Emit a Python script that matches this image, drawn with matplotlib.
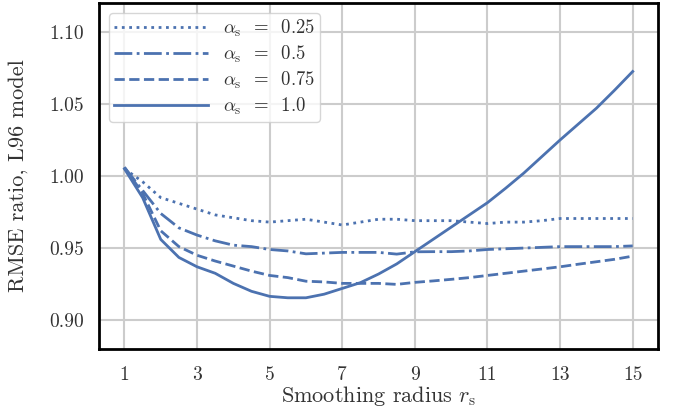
import matplotlib
matplotlib.use("Agg")
import matplotlib.pyplot as plt

r_s = [1, 1.5, 2, 2.5, 3, 3.5, 4, 4.5, 5, 5.5, 6, 6.5, 7, 7.5, 8, 8.5, 9, 9.5,
       10, 10.5, 11, 11.5, 12, 12.5, 13, 13.5, 14, 14.5, 15]

alpha_025 = [1.005, 0.996, 0.985, 0.981, 0.977, 0.973, 0.971, 0.969, 0.968, 0.969,
             0.970, 0.968, 0.966, 0.968, 0.970, 0.970, 0.969, 0.969, 0.969, 0.968,
             0.967, 0.968, 0.968, 0.969, 0.9705, 0.9705, 0.9705, 0.9705, 0.9705]
alpha_05 = [1.006, 0.990, 0.974, 0.964, 0.959, 0.955, 0.952, 0.951, 0.949, 0.948,
            0.946, 0.9465, 0.947, 0.947, 0.947, 0.9458, 0.9474, 0.9475, 0.9475, 0.948,
            0.949, 0.9495, 0.950, 0.9505, 0.951, 0.951, 0.951, 0.951, 0.9515]
alpha_075 = [1.006, 0.988, 0.962, 0.951, 0.945, 0.941, 0.9375, 0.934, 0.931, 0.9295,
             0.927, 0.9265, 0.9255, 0.9255, 0.9255, 0.9248, 0.9262, 0.9272, 0.9283, 0.9295,
             0.931, 0.9325, 0.934, 0.9355, 0.937, 0.9388, 0.9405, 0.9422, 0.9444]
alpha_10 = [1.005, 0.985, 0.956, 0.9435, 0.937, 0.9325, 0.9255, 0.920, 0.9165, 0.9155,
            0.9155, 0.918, 0.922, 0.926, 0.932, 0.939, 0.9475, 0.956, 0.9645, 0.973,
            0.9815, 0.9915, 1.002, 1.0135, 1.025, 1.036, 1.047, 1.0595, 1.0725]

labels = [r"$\alpha_\mathrm{s}\;\;=\;\;0.25$", r"$\alpha_\mathrm{s}\;\;=\;\;0.5$",
          r"$\alpha_\mathrm{s}\;\;=\;\;0.75$", r"$\alpha_\mathrm{s}\;\;=\;\;1.0$"]
styles = [":", "-.", "--", "-"]
xticks = [1, 3, 5, 7, 9, 11, 13, 15]
yticks = [0.90, 0.95, 1.00, 1.05, 1.10]

plt.rcParams.update({
    "font.family": "serif",
    "font.serif": ["cmr10"],
    "mathtext.fontset": "cm",
    "axes.formatter.use_mathtext": True,
    "font.size": 13,
})

fig = plt.figure(figsize=(6.75, 4.12), dpi=100)
ax = fig.add_axes([0.1467, 0.153, 0.8283, 0.8397])
color = "#4c72b0"
for ys, ls, lab in zip([alpha_025, alpha_05, alpha_075, alpha_10], styles, labels):
    ax.plot(r_s, ys, ls=ls, color=color, lw=2, label=lab)

ax.set_xlim(0.3, 15.7)
ax.set_ylim(0.88, 1.12)
ax.set_xticks(xticks)
ax.set_xticklabels([str(t) for t in xticks])
ax.set_yticks(yticks)
ax.set_yticklabels([f"{t:.2f}" for t in yticks])
ax.grid(True, color="#cccccc", lw=1.5)
ax.set_axisbelow(True)
for s in ax.spines.values():
    s.set_color("black")
    s.set_linewidth(2)
ax.tick_params(length=0, labelsize=14, colors="#333333")
ax.tick_params(axis="x", pad=12)
ax.tick_params(axis="y", pad=11)
ax.set_xlabel(r"Smoothing radius $r_\mathrm{s}$", fontsize=16, color="#333333", labelpad=0)
ax.set_ylabel("RMSE ratio, L96 model", fontsize=16, color="#333333")
ax.yaxis.set_label_coords(-0.127, 0.5)
leg = ax.legend(loc="upper left", handlelength=5.0, fontsize=13.5, frameon=True,
                fancybox=True, framealpha=0.8, edgecolor="#cccccc",
                borderpad=0.25, labelspacing=0.25, handletextpad=0.8,
                bbox_to_anchor=(0.0, 1.0), borderaxespad=0.55)
for t in leg.get_texts():
    t.set_color("#333333")

fig.savefig("out.png", dpi=100)
